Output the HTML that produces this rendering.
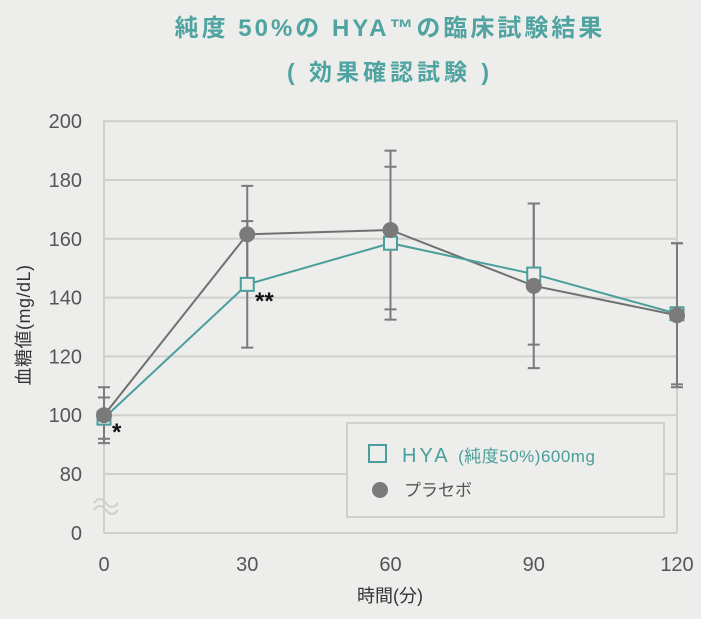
<!DOCTYPE html>
<html><head><meta charset="utf-8"><style>
body{margin:0;background:#ededeb;font-family:"Liberation Sans","Noto Sans CJK JP",sans-serif}
svg text{font-family:"Liberation Sans","Noto Sans CJK JP",sans-serif}
</style></head><body>
<svg width="701" height="614" viewBox="0 0 701 614" xmlns="http://www.w3.org/2000/svg">
<rect width="701" height="614" fill="#ededeb"/>
<text x="390" y="36" text-anchor="middle" font-size="24" font-weight="bold" fill="#4fa3a0" letter-spacing="3">純度 50%の HYA™の臨床試験結果</text>
<text x="390" y="80" text-anchor="middle" font-size="23" font-weight="bold" fill="#4fa3a0" letter-spacing="4">( 効果確認試験 )</text>
<g id="grid"></g>
<g id="axes"></g>
<text x="390" y="602" text-anchor="middle" font-size="18" fill="#333">時間(分)</text>
<text transform="translate(30,325) rotate(-90)" text-anchor="middle" font-size="18" fill="#333" letter-spacing="0.5">血糖値(mg/dL)</text>
<g id="series"></g>
<text x="112" y="440" font-size="24" font-weight="bold" fill="#111">*</text>
<text x="255" y="309" font-size="24" font-weight="bold" fill="#111">**</text>
<g>
<rect x="347" y="423" width="317" height="94" fill="#ededeb" stroke="#cfcfcd" stroke-width="2"/>
<rect x="369" y="445" width="17" height="17" fill="none" stroke="#4a9e9b" stroke-width="2"/>
<text x="402" y="462" font-size="20" fill="#4a9e9b" letter-spacing="3">HYA <tspan font-size="17" letter-spacing="0.5">(純度50%)600mg</tspan></text>
<circle cx="380" cy="490" r="8" fill="#7a7a7a"/>
<text x="404" y="496" font-size="17" fill="#555">プラセボ</text>
</g>
</svg>
<script>
const xCats=[0,30,60,90,120];
const yTicks=[0,80,100,120,140,160,180,200];
const hyaValues=[99,144.5,158.5,148,134.5];
const hyaErr=[7,21.5,26,24,24];
const placeboValues=[100,161.5,163,144,134];
const placeboErr=[9.5,16.5,27,28,24.5];
const NS="http://www.w3.org/2000/svg";
const X=v=>104+(v/120)*573;
const Y=v=>v<80?533-(v/80)*59:474-(v-80)*2.94;
function mk(t,a,p){const e=document.createElementNS(NS,t);for(const k in a)e.setAttribute(k,a[k]);p.appendChild(e);return e;}
const grid=document.getElementById('grid'),axes=document.getElementById('axes'),ser=document.getElementById('series');
yTicks.forEach(t=>{
 const l=mk('line',{x1:104,x2:677,y1:Y(t),y2:Y(t),stroke:'#cfcfcd','stroke-width':2},grid);
 
 
 const tx=mk('text',{x:82,y:Y(t)+7,'text-anchor':'end','font-size':20,fill:'#555'},axes);tx.textContent=t;
 
 
});
xCats.forEach(c=>{
 const tx=mk('text',{x:X(c),y:571,'text-anchor':'middle','font-size':20,fill:'#555'},axes);tx.textContent=c;
 
 
});
const v1=mk('line',{x1:104,x2:104,y1:120,y2:533,stroke:'#cfcfcd','stroke-width':2},axes);


const v2=mk('line',{x1:677,x2:677,y1:120,y2:533,stroke:'#cfcfcd','stroke-width':2},axes);


const br=mk('path',{d:'M94,503 q6,-8 12,0 t12,0 M94,510 q6,-8 12,0 t12,0',fill:'none',stroke:'#cfcfcd','stroke-width':2},axes);


function errBars(vals,err,col,name){
 vals.forEach((v,i)=>{const x=X(xCats[i]);
  const g=mk('path',{d:`M${x},${Y(v+err[i])}V${Y(v-err[i])}M${x-6},${Y(v+err[i])}h12M${x-6},${Y(v-err[i])}h12`,stroke:col,'stroke-width':2,fill:'none'},ser);
  
  
 });
}
errBars(placeboValues,placeboErr,'#7a7a7a','placebo');
errBars(hyaValues,hyaErr,'#7a7a7a','hya');
const pl=mk('polyline',{points:placeboValues.map((v,i)=>X(xCats[i])+','+Y(v)).join(' '),fill:'none',stroke:'#707070','stroke-width':2},ser);


const hl=mk('polyline',{points:hyaValues.map((v,i)=>X(xCats[i])+','+Y(v)).join(' '),fill:'none',stroke:'#4a9e9b','stroke-width':2},ser);


hyaValues.forEach((v,i)=>{
 const r=mk('rect',{x:X(xCats[i])-6.5,y:Y(v)-6.5,width:13,height:13,fill:'#ededeb',stroke:'#4a9e9b','stroke-width':2},ser);
 
 
});
placeboValues.forEach((v,i)=>{
 const c=mk('circle',{cx:X(xCats[i]),cy:Y(v),r:8,fill:'#7a7a7a'},ser);
 
 
});
</script>
</body></html>
